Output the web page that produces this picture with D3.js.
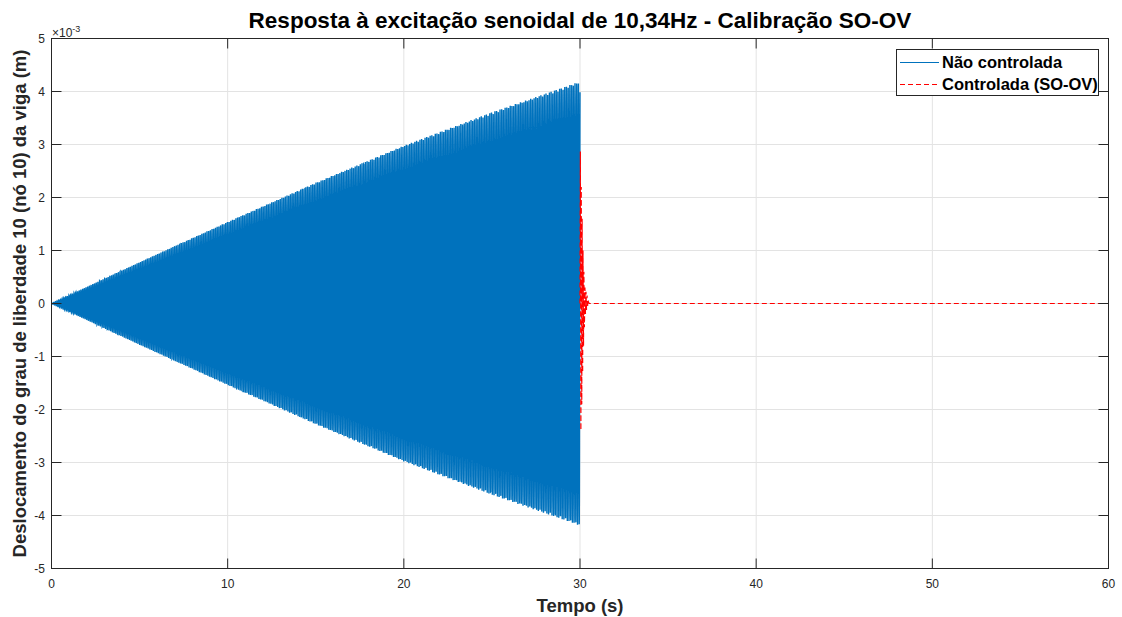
<!DOCTYPE html>
<html>
<head>
<meta charset="utf-8">
<title>Calibração SO-OV</title>
<style>
  body { margin: 0; background: #fff; font-family: "Liberation Sans", Arial, sans-serif; }
  svg text { fill: #262626; }
</style>
</head>
<body>
<svg id="chart" width="1122" height="617"></svg>
<script src="https://d3js.org/d3.v7.min.js"></script>
<script>
// excitation frequency (from the title) and envelope of the uncontrolled response, in 1e-3 m
const excitationHz = 10.34;
const envTime = [0, 5, 10, 15, 20, 25, 30];
const envAmp = [0, 0.78, 1.54, 2.28, 2.98, 3.61, 4.19];

// controlled response (SO-OV), in 1e-3 m
const redTime = [30.00, 30.02, 30.05, 30.07, 30.10, 30.12, 30.15, 30.17, 30.20, 30.22, 30.25, 30.28, 30.31, 30.34, 30.37, 30.40, 30.44, 30.48, 30.52, 60];
const redValue = [0, 2.87, -2.39, 2.2, -1.9, 1.6, -1.3, 1.0, -0.8, 0.6, -0.45, 0.3, -0.2, 0.22, -0.12, 0.15, -0.05, 0.03, 0, 0];

const xTicks = [0, 10, 20, 30, 40, 50, 60];
const yTicks = [-5, -4, -3, -2, -1, 0, 1, 2, 3, 4, 5];

const svg = d3.select("#chart");
const x = d3.scaleLinear().domain([0, 60]).range([51.5, 1108.5]);
const y = d3.scaleLinear().domain([-5, 5]).range([568.5, 38.5]);

// grid
const grid = svg.append("g").attr("stroke", "#e3e3e3").attr("stroke-width", 1);
xTicks.forEach(t => grid.append("line").attr("x1", x(t)).attr("x2", x(t)).attr("y1", y(-5)).attr("y2", y(5)));
yTicks.forEach(t => grid.append("line").attr("x1", x(0)).attr("x2", x(60)).attr("y1", y(t)).attr("y2", y(t)));

// uncontrolled response: sinusoid under the read envelope
const env = d3.scaleLinear().domain(envTime).range(envAmp);
const dt = 0.005;
const blue = [];
for (let t = 0; t <= 30 + 1e-9; t += dt) {
  blue.push([t, env(t) * Math.sin(2 * Math.PI * excitationHz * t)]);
}
const line = d3.line().x(d => x(d[0])).y(d => y(d[1]));
svg.append("path")
  .attr("d", line(blue))
  .attr("fill", "none")
  .attr("stroke", "#0072bd")
  .attr("stroke-width", 1.4);

// controlled response
svg.append("path")
  .attr("d", line(redTime.map((t, i) => [t, redValue[i]])))
  .attr("fill", "none")
  .attr("stroke", "#ff0000")
  .attr("stroke-width", 1.2)
  .attr("stroke-dasharray", "5,3");

// axes box with inward ticks
const ax = svg.append("g").attr("stroke", "#262626").attr("stroke-width", 1);
ax.append("rect").attr("x", x(0)).attr("y", y(5)).attr("width", x(60) - x(0)).attr("height", y(-5) - y(5)).attr("fill", "none");
xTicks.forEach(t => {
  ax.append("line").attr("x1", x(t)).attr("x2", x(t)).attr("y1", y(-5)).attr("y2", y(-5) - 10);
  ax.append("line").attr("x1", x(t)).attr("x2", x(t)).attr("y1", y(5)).attr("y2", y(5) + 10);
});
yTicks.forEach(t => {
  ax.append("line").attr("x1", x(0)).attr("x2", x(0) + 10).attr("y1", y(t)).attr("y2", y(t));
  ax.append("line").attr("x1", x(60)).attr("x2", x(60) - 10).attr("y1", y(t)).attr("y2", y(t));
});

// tick labels
svg.append("g").selectAll("text").data(xTicks).join("text")
  .attr("x", d => x(d)).attr("y", 588)
  .attr("text-anchor", "middle").attr("font-size", 12)
  .text(d => d);
svg.append("g").selectAll("text").data(yTicks).join("text")
  .attr("x", 45).attr("y", d => y(d) + 4)
  .attr("text-anchor", "end").attr("font-size", 12)
  .text(d => d);

// exponent
const ex = svg.append("text").attr("x", 52).attr("y", 37).attr("font-size", 12);
ex.append("tspan").text("\u00d710");
ex.append("tspan").attr("dy", -5).attr("font-size", 9).text("-3");

// title and labels
svg.append("text").attr("x", x(30)).attr("y", 28)
  .attr("text-anchor", "middle").attr("font-size", 22.5).attr("font-weight", "bold")
  .style("fill", "#000")
  .text("Resposta à excitação senoidal de 10,34Hz - Calibração SO-OV");
svg.append("text").attr("x", x(30)).attr("y", 612)
  .attr("text-anchor", "middle").attr("font-size", 18.5).attr("font-weight", "bold")
  .text("Tempo (s)");
svg.append("text")
  .attr("transform", `translate(26,${y(0)}) rotate(-90)`)
  .attr("text-anchor", "middle").attr("font-size", 18.5).attr("font-weight", "bold")
  .text("Deslocamento do grau de liberdade 10 (nó 10) da viga (m)");

// legend
const lg = svg.append("g");
lg.append("rect").attr("x", 896.5).attr("y", 49.5).attr("width", 202).attr("height", 46)
  .attr("fill", "#fff").attr("stroke", "#262626").attr("stroke-width", 1);
const entries = [
  { label: "Não controlada", color: "#0072bd", dash: null },
  { label: "Controlada (SO-OV)", color: "#ff0000", dash: "5,3" }
];
entries.forEach((e, i) => {
  const yy = 62.5 + i * 22;
  lg.append("line").attr("x1", 900).attr("x2", 939).attr("y1", yy).attr("y2", yy)
    .attr("stroke", e.color).attr("stroke-width", 1).attr("stroke-dasharray", e.dash);
  lg.append("text").attr("x", 942).attr("y", yy + 5.5)
    .attr("font-size", 16.5).attr("font-weight", "bold").style("fill", "#000")
    .text(e.label);
});
</script>
</body>
</html>
